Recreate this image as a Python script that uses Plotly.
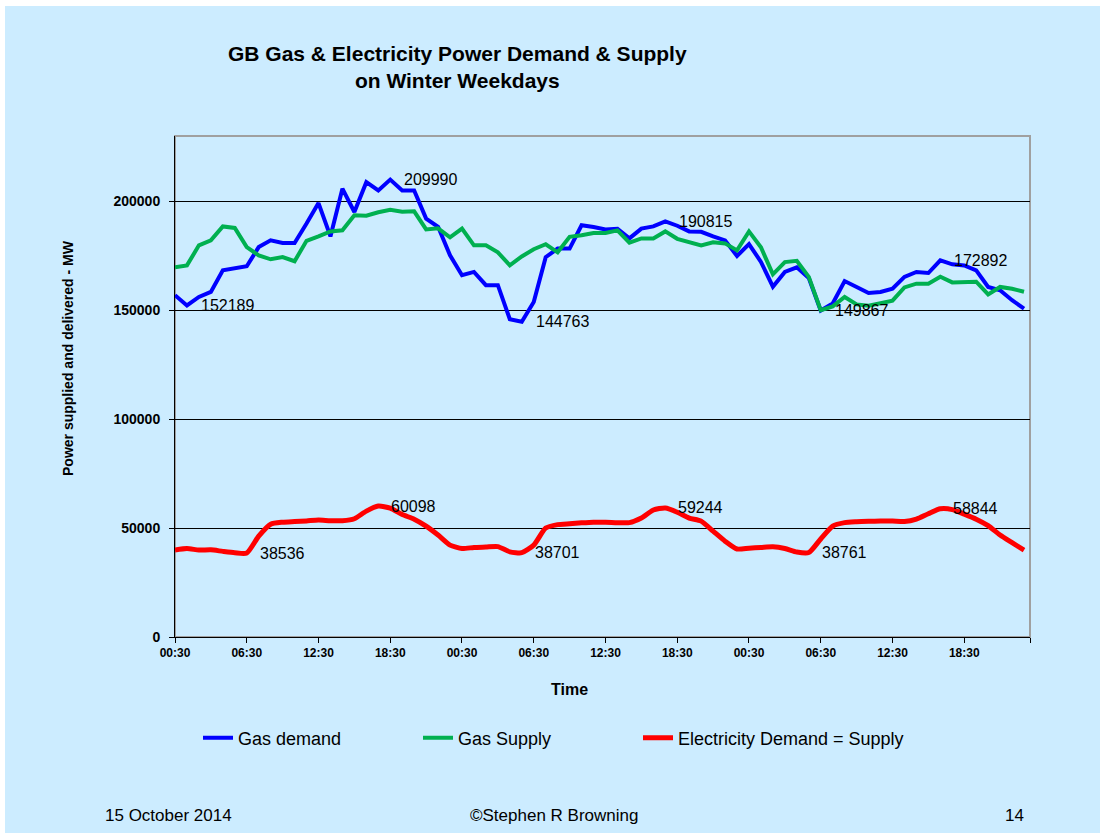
import plotly.graph_objects as go

# ---------------- data (hourly readings, 3 winter weekdays) ----------------
hours = list(range(72))
gas_demand = [156900, 152189, 156100, 158400, 168300, 169100, 170200, 179000, 182100, 180900,
              180900, 189800, 199200, 183900, 205800, 195100, 208800, 205000, 209990, 205000,
              205000, 192100, 188300, 175200, 166100, 167600, 161500, 161500, 145900, 144763,
              153800, 174400, 178300, 178300, 189000, 188200, 187100, 187400, 183000, 187500,
              188500, 190815, 188800, 186200, 186000, 183900, 182100, 174900, 180400, 172200,
              160800, 167600, 169700, 164800, 149867, 153100, 163400, 160700, 157900, 158400,
              159900, 165300, 167600, 167100, 172892, 171100, 170600, 168300, 160700, 159200,
              154600, 150800]
gas_supply = [169700, 170600, 179800, 182100, 188500, 187800, 179000, 175200, 173400, 174400,
              172500, 181900, 183900, 186200, 186700, 193600, 193400, 195000, 196100, 195200,
              195400, 187100, 187600, 183500, 187500, 179800, 179800, 176600, 170600, 174700,
              178000, 180300, 176600, 183700, 184400, 185500, 185500, 186700, 181000, 183000,
              183000, 186200, 182800, 181400, 179800, 181200, 180700, 177500, 186200, 178900,
              166500, 172100, 172700, 165300, 150000, 151800, 156100, 152700, 152100, 153200,
              154400, 160500, 162200, 162200, 165400, 162800, 163100, 163100, 157300, 160700,
              159900, 158500]
electricity = [39900, 40600, 39900, 40000, 39300, 38700, 38536, 46300, 51800, 52700,
               53000, 53300, 53700, 53400, 53400, 54300, 57800, 60098, 59200, 56200,
               54100, 50900, 46800, 42200, 40600, 41100, 41300, 41500, 39100, 38701,
               42200, 50000, 51600, 52000, 52400, 52700, 52700, 52500, 52500, 54600,
               58300, 59244, 57300, 54600, 53200, 48600, 44000, 40400, 40800, 41100,
               41400, 40600, 39000, 38761, 45000, 50900, 52500, 52900, 53100, 53200,
               53200, 53000, 54100, 56600, 58844, 58500, 56400, 54100, 51100, 46800,
               43300, 39900]
gas_label_idx = [1, 18, 29, 41, 54, 64]
elec_label_idx = [6, 17, 29, 41, 53, 64]
tick_labels = ["00:30", "06:30", "12:30", "18:30",
               "00:30", "06:30", "12:30", "18:30",
               "00:30", "06:30", "12:30", "18:30"]
y_ticks = [0, 50000, 100000, 150000, 200000]

# half-hour category positions
x_vals = [2 * h for h in hours]

FONT = "Liberation Sans, Arial, sans-serif"
BG = "#CCECFF"

# figure geometry
W, H = 1109, 833
ML, MR, MT, MB = 175, 79, 136, 196
PW, PH = W - ML - MR, H - MT - MB


def px_x(px):
    return (px - ML) / PW


def px_y(py):
    return (H - MB - py) / PH


fig = go.Figure()
fig.add_trace(go.Scatter(x=x_vals, y=gas_demand, mode="lines", name="Gas demand",
                         line=dict(color="#0000FF", width=4)))
fig.add_trace(go.Scatter(x=x_vals, y=gas_supply, mode="lines", name="Gas Supply",
                         line=dict(color="#00B050", width=4)))
fig.add_trace(go.Scatter(x=x_vals, y=electricity, mode="lines",
                         name="Electricity Demand = Supply", legendwidth=260,
                         line=dict(color="#FF0000", width=5, shape="spline", smoothing=0.6)))

annotations = []
for i in gas_label_idx:
    annotations.append(dict(x=x_vals[i], y=gas_demand[i], text=str(gas_demand[i]),
                            xref="x", yref="y", showarrow=False, xanchor="left",
                            yanchor="middle", xshift=12,
                            font=dict(family=FONT, size=16, color="black")))
for i in elec_label_idx:
    annotations.append(dict(x=x_vals[i], y=electricity[i], text=str(electricity[i]),
                            xref="x", yref="y", showarrow=False, xanchor="left",
                            yanchor="middle", xshift=11,
                            font=dict(family=FONT, size=16, color="black")))

# title
annotations.append(dict(x=px_x(457), y=px_y(67), xref="paper", yref="paper",
                        text="GB Gas & Electricity Power Demand & Supply<br>on Winter Weekdays",
                        showarrow=False, xanchor="center", yanchor="middle",
                        font=dict(family=FONT, size=21, color="black", weight="bold")))
# y-axis title
annotations.append(dict(x=px_x(68), y=px_y(358), xref="paper", yref="paper",
                        text="Power supplied and delivered - MW", textangle=-90,
                        showarrow=False, xanchor="center", yanchor="middle",
                        font=dict(family=FONT, size=14, color="black", weight="bold")))
# x-axis title
annotations.append(dict(x=px_x(569), y=px_y(689), xref="paper", yref="paper",
                        text="Time", showarrow=False, xanchor="center", yanchor="middle",
                        font=dict(family=FONT, size=16, color="black", weight="bold")))
# footer
for txt, left in [("15 October 2014", 103), ("©Stephen R Browning", 468), ("14", 1003)]:
    annotations.append(dict(x=px_x(left), y=px_y(815), xref="paper", yref="paper",
                            text=txt, showarrow=False, xanchor="left", yanchor="middle",
                            font=dict(family=FONT, size=17, color="black")))

shapes = [
    dict(type="rect", xref="paper", yref="paper", layer="below",
         x0=px_x(5), x1=px_x(1100), y0=px_y(833), y1=px_y(6),
         fillcolor=BG, line=dict(width=0)),
    dict(type="rect", xref="paper", yref="paper", layer="below",
         x0=0, x1=1, y0=0, y1=1, fillcolor="rgba(0,0,0,0)",
         line=dict(color="#A0A0A0", width=2)),
]

fig.update_layout(
    width=W, height=H,
    margin=dict(l=ML, r=MR, t=MT, b=MB, pad=0),
    paper_bgcolor="white",
    plot_bgcolor="rgba(0,0,0,0)",
    font=dict(family=FONT, color="black"),
    showlegend=True,
    legend=dict(orientation="h", x=px_x(198), y=px_y(738), xanchor="left",
                yanchor="middle", entrywidth=175, entrywidthmode="pixels",
                bgcolor="rgba(0,0,0,0)", font=dict(family=FONT, size=18, color="black")),
    xaxis=dict(range=[0, 143], tickmode="array",
               tickvals=list(range(0, 144, 12)) + [143],
               ticktext=tick_labels + [""],
               showgrid=False, zeroline=False, showline=True, linecolor="black",
               linewidth=1, ticks="outside", ticklen=5, tickcolor="black",
               tickfont=dict(family=FONT, size=12, color="black", weight="bold")),
    yaxis=dict(range=[0, 230000], tickmode="array", tickvals=y_ticks,
               ticktext=[str(v) for v in y_ticks],
               showgrid=True, gridcolor="black", gridwidth=1, zeroline=False,
               showline=True, linecolor="black", linewidth=1, ticks="outside",
               ticklen=5, tickcolor="black", ticklabelstandoff=6,
               tickfont=dict(family=FONT, size=14, color="black", weight="bold")),
    annotations=annotations,
    shapes=shapes,
)

fig.write_html("out.html", config={"displayModeBar": False},
               post_script="document.body.style.margin='0';")
